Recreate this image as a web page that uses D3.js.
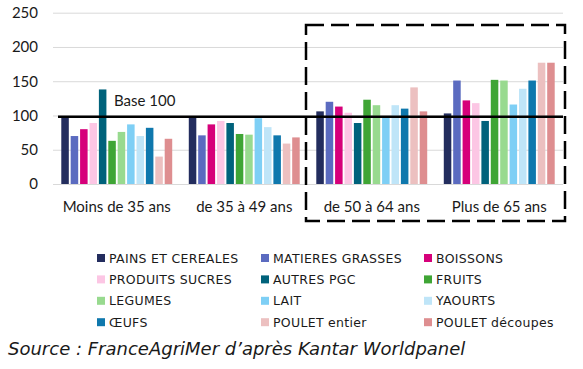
<!DOCTYPE html>
<html lang="fr">
<head>
    <meta charset="UTF-8">
    <title>Indices par age</title>
    <style>
        body { margin: 0; background: #fff; }
        svg text { font-family: Lato, "Open Sans", sans-serif; fill: #1a1a1a; }
    </style>
</head>
<body>
    <div class="canvas"></div>

    <script src="https://d3js.org/d3.v7.min.js"></script>
    <script>
        // data (indice base 100)
        const groups = ['Moins de 35 ans', 'de 35 à 49 ans', 'de 50 à 64 ans', 'Plus de 65 ans'];
        const categories = ['PAINS ET CEREALES', 'MATIERES GRASSES', 'BOISSONS', 'PRODUITS SUCRES',
            'AUTRES PGC', 'FRUITS', 'LEGUMES', 'LAIT', 'YAOURTS', 'ŒUFS', 'POULET entier', 'POULET découpes'];
        const moins35 = [97, 70, 80, 89, 138, 63, 76, 87, 70, 82, 40, 66];
        const de35a49 = [97, 71, 87, 92, 89, 73, 72, 96, 83, 71, 59, 68];
        const de50a64 = [106, 120, 113, 104, 89, 123, 115, 99, 115, 110, 141, 106];
        const plus65 = [103, 151, 122, 118, 92, 152, 151, 116, 139, 151, 177, 177];
        const yTicks = [0, 50, 100, 150, 200, 250];
        const colors = ['#232d5e', '#5b6bc0', '#d6007a', '#fcc6e4', '#00627b', '#3fa535',
            '#98da8f', '#7ecff5', '#bfe5f8', '#0f78ad', '#ecc0c0', '#de8e90'];
        const baseValue = 100;

        const series = [moins35, de35a49, de50a64, plus65];
        const data = groups.map((g, i) => ({
            group: g,
            values: categories.map((c, j) => ({ cat: c, value: series[i][j] }))
        }));

        const W = 583, H = 369;
        const plot = { left: 53, right: 563, top: 12.7, bottom: 184 };

        const svg = d3.select('.canvas')
            .append('svg')
            .attr('width', W)
            .attr('height', H);

        const y = d3.scaleLinear()
            .domain([0, 250])
            .range([plot.bottom, plot.top]);

        const x0 = d3.scaleBand()
            .domain(groups)
            .range([plot.left, plot.right])
            .paddingInner(0.13)
            .paddingOuter(0.065);

        const x1 = d3.scaleBand()
            .domain(categories)
            .range([0, x0.bandwidth()])
            .paddingInner(0.2);

        const color = d3.scaleOrdinal()
            .domain(categories)
            .range(colors);

        // grid + y labels
        const yAxis = d3.axisLeft(y)
            .tickValues(yTicks)
            .tickSize(-(plot.right - plot.left))
            .tickPadding(15);

        const yG = svg.append('g')
            .attr('transform', `translate(${plot.left},0)`)
            .call(yAxis);
        yG.select('.domain').remove();
        yG.selectAll('.tick line').attr('stroke', '#d9d9d9').attr('stroke-width', 1);
        yG.selectAll('.tick text')
            .attr('font-size', 15)
            .attr('fill', '#1a1a1a')
            .style('font-family', 'Lato, sans-serif');

        // bars
        const gGroups = svg.selectAll('.grp')
            .data(data)
            .enter()
            .append('g')
            .attr('class', 'grp')
            .attr('transform', d => `translate(${x0(d.group)},0)`);

        gGroups.selectAll('rect')
            .data(d => d.values)
            .enter()
            .append('rect')
            .attr('x', d => x1(d.cat))
            .attr('y', d => y(d.value))
            .attr('width', x1.bandwidth())
            .attr('height', d => y(0) - y(d.value))
            .attr('fill', d => color(d.cat));

        // group labels
        const xAxis = d3.axisBottom(x0).tickSize(0).tickPadding(17);
        const xG = svg.append('g')
            .attr('transform', `translate(0,${plot.bottom})`)
            .call(xAxis);
        xG.select('.domain').remove();
        xG.selectAll('.tick text')
            .attr('font-size', 15)
            .attr('fill', '#1a1a1a')
            .style('font-family', 'Lato, sans-serif');

        // base 100 line
        svg.append('line')
            .attr('x1', 58)
            .attr('x2', plot.right)
            .attr('y1', y(baseValue) + 1.3)
            .attr('y2', y(baseValue) + 1.3)
            .attr('stroke', '#000')
            .attr('stroke-width', 2.5);

        svg.append('text')
            .attr('x', 114)
            .attr('y', y(baseValue) - 9)
            .attr('font-size', 15)
            .text('Base 100');

        // dashed box round the two older groups
        svg.append('rect')
            .attr('x', 306)
            .attr('y', 25)
            .attr('width', 259)
            .attr('height', 196)
            .attr('fill', 'none')
            .attr('stroke', '#000')
            .attr('stroke-width', 2.5)
            .attr('stroke-dasharray', '18,7');

        // legend, 3 columns
        const legend = svg.append('g');
        const colX = [97, 261, 424];
        const item = legend.selectAll('.leg')
            .data(categories)
            .enter()
            .append('g')
            .attr('class', 'leg')
            .attr('transform', (d, i) => `translate(${colX[i % 3]},${258 + Math.floor(i / 3) * 21.4})`);

        item.append('rect')
            .attr('x', 0)
            .attr('y', -4)
            .attr('width', 8)
            .attr('height', 8)
            .attr('fill', d => color(d));

        item.append('text')
            .attr('x', 12)
            .attr('y', 0)
            .attr('dy', '0.36em')
            .attr('font-size', 12.5)
            .attr('letter-spacing', 0.3)
            .style('font-family', '"DejaVu Sans", sans-serif')
            .text(d => d);

        // source
        svg.append('text')
            .attr('x', 8)
            .attr('y', 355)
            .attr('font-size', 18)
            .attr('font-style', 'italic')
            .style('font-family', '"DejaVu Sans", sans-serif')
            .text('Source : FranceAgriMer d’après Kantar Worldpanel');
    </script>
</body>
</html>
